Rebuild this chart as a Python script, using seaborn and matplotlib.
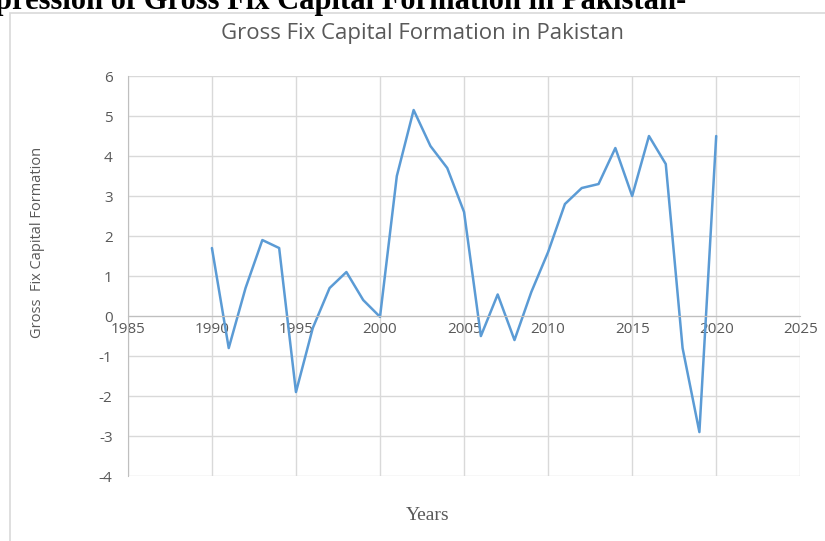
import numpy as np
import pandas as pd
import matplotlib
matplotlib.use("Agg")
import matplotlib.pyplot as plt
import seaborn as sns
from matplotlib.patches import Rectangle

# Gross fixed capital formation (annual), Pakistan
years = [1990, 1991, 1992, 1993, 1994, 1995, 1996, 1997, 1998, 1999, 2000,
         2001, 2002, 2003, 2004, 2005, 2006, 2007, 2008, 2009, 2010,
         2011, 2012, 2013, 2014, 2015, 2016, 2017, 2018, 2019, 2020]
gfcf = [1.7, -0.8, 0.7, 1.9, 1.7, -1.9, -0.3, 0.7, 1.1, 0.4, -0.02,
        3.5, 5.15, 4.25, 3.7, 2.6, -0.5, 0.54, -0.6, 0.6, 1.6,
        2.8, 3.2, 3.3, 4.2, 3.0, 4.5, 3.8, -0.8, -2.9, 4.5]
x_ticks = [1985, 1990, 1995, 2000, 2005, 2010, 2015, 2020, 2025]
y_ticks = [-4, -3, -2, -1, 0, 1, 2, 3, 4, 5, 6]

df = pd.DataFrame({"Years": years, "GFCF": gfcf})

sns.set_style("white")
plt.rcParams['font.family'] = ['Open Sans', 'DejaVu Sans']
plt.rcParams['axes.unicode_minus'] = False

fig = plt.figure(figsize=(8.25, 5.41), dpi=100)
ax = fig.add_axes([0.155, 0.12, 0.815, 0.7395])

sns.lineplot(data=df, x="Years", y="GFCF", ax=ax, color="#5B9BD5", linewidth=1.8)

ax.set_xlim(1985, 2025)
ax.set_ylim(-4, 6)
ax.set_xticks(x_ticks)
ax.set_yticks(y_ticks)
ax.grid(True, color="#d9d9d9", linewidth=1.0)
ax.set_axisbelow(True)
for s in ["top", "right"]:
    ax.spines[s].set_visible(False)
ax.spines["bottom"].set_position(("data", 0))
ax.spines["bottom"].set_color("#bfbfbf")
ax.spines["left"].set_color("#bfbfbf")
ax.tick_params(length=0, labelsize=11, colors="#595959")
ax.tick_params(axis="y", pad=11)
ax.tick_params(axis="x", pad=4)

ax.set_title("Gross Fix Capital Formation in Pakistan", fontsize=16,
             color="#595959", x=0.4375, pad=27)
ax.set_ylabel("Gross  Fix Capital Formation", fontsize=10.5, color="#595959")
ax.yaxis.set_label_coords(-0.124, 0.585)
ax.set_xlabel("Years", fontsize=14, color="#595959", family="Liberation Serif")
ax.xaxis.set_label_coords(0.446, -0.078)

# chart area border
fig.patches.append(Rectangle((0.012, -0.1), 1.2, 1.1 - 13 / 541,
                             transform=fig.transFigure, fill=False,
                             edgecolor="#d9d9d9", linewidth=1.2))
# clipped heading from the document above the chart
fig.text(-0.006, 0.984, "pression of Gross Fix Capital Formation in Pakistan-",
         fontsize=22, fontweight="bold", family="Liberation Serif",
         va="baseline", ha="left", color="black")

fig.savefig("out.png", dpi=100)
